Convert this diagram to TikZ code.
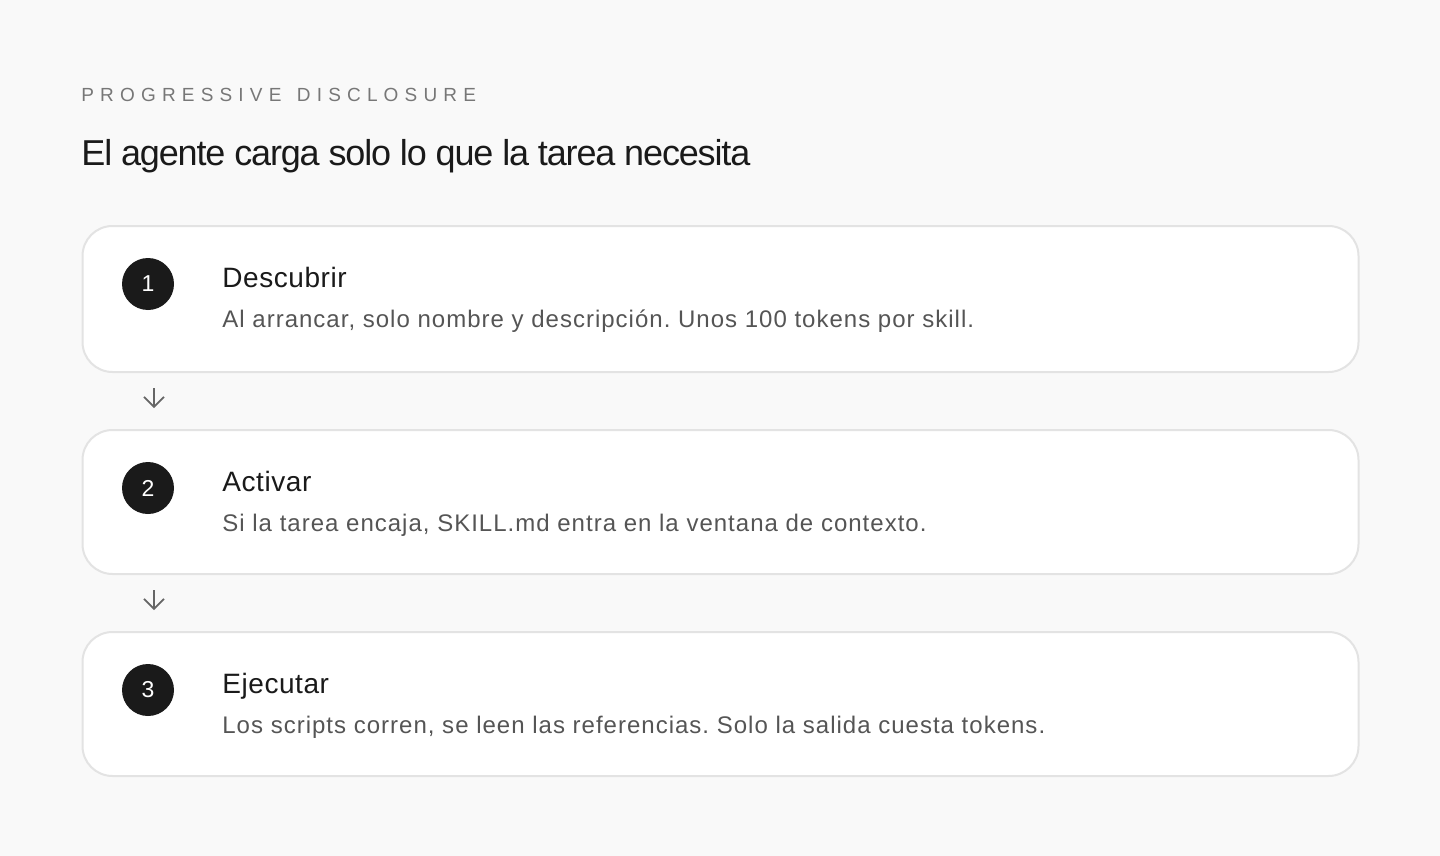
\documentclass[tikz,border=0pt]{standalone}
\usepackage{fontspec}
\setmainfont{Liberation Sans}
\usetikzlibrary{arrows.meta}
\definecolor{pagebg}{HTML}{F9F9F9}
\definecolor{cardline}{HTML}{E3E3E3}
\definecolor{ink}{HTML}{1A1A1A}
\definecolor{muted}{HTML}{555555}
\definecolor{eyebrow}{HTML}{777777}
\definecolor{arrowgray}{HTML}{666666}
\frenchspacing
\tikzset{
  card/.style={draw=cardline,line width=1pt,fill=white,rounded corners=15pt,
    anchor=north west,inner sep=0pt,minimum width=638pt,minimum height=72pt},
  num/.style={circle,fill=ink,text=white,minimum size=26pt,inner sep=0pt,
    font=\fontsize{11.5}{13}\selectfont},
  steptitle/.style={anchor=base west,inner sep=0pt,text=ink,
    font=\fontsize{14}{16}\selectfont\addfontfeatures{LetterSpace=2}},
  stepdesc/.style={anchor=base west,inner sep=0pt,text=muted,
    font=\fontsize{12}{14}\selectfont\addfontfeatures{LetterSpace=4.2}},
  flow/.style={draw=arrowgray,line width=0.8pt,-{Straight Barb[length=5pt,width=10pt,line width=0.8pt]}}
}
\begin{document}
\begin{tikzpicture}[x=0.5pt,y=-0.5pt]
\fill[pagebg] (0,0) rectangle (1440,856);
\useasboundingbox (0,0) rectangle (1440,856);
\node[anchor=base west,inner sep=0pt,text=eyebrow,font=\fontsize{9.5}{12}\selectfont\addfontfeatures{LetterSpace=32.5}] (kicker) at (81,102) {PROGRESSIVE\hspace{2pt} DISCLOSURE};
\node[anchor=base west,inner sep=0pt,text=ink,font=\fontsize{18}{22}\selectfont\addfontfeatures{LetterSpace=-3.2}] (headline) at (81,165) {El agente carga solo lo que la tarea necesita};
\node[card,minimum height=73pt] (step1) at (81.5,225) {};
\node[card] (step2) at (81.5,429) {};
\node[card] (step3) at (81.5,631) {};
\node[num] (num1) at (148,284) {1};
\node[num] (num2) at (148,488) {2};
\node[num] (num3) at (148,690) {3};
\node[steptitle] (title1) at (222,287) {Descubrir};
\node[steptitle] (title2) at (222,491) {Activar};
\node[steptitle] (title3) at (222,693) {Ejecutar};
\node[stepdesc] (desc1) at (222,327) {Al arrancar, solo nombre y descripción. Unos 100 tokens por skill.};
\node[stepdesc] (desc2) at (222,531) {Si la tarea encaja, SKILL.md entra en la ventana de contexto.};
\node[stepdesc] (desc3) at (222,733) {Los scripts corren, se leen las referencias. Solo la salida cuesta tokens.};
\draw[flow] ([xshift=3pt,yshift=-7.5pt]step1.south -| num1) -- ([xshift=3pt,yshift=10.5pt]step2.north -| num2);
\draw[flow] ([xshift=3pt,yshift=-7.5pt]step2.south -| num2) -- ([xshift=3pt,yshift=10.5pt]step3.north -| num3);
\end{tikzpicture}
\end{document}
